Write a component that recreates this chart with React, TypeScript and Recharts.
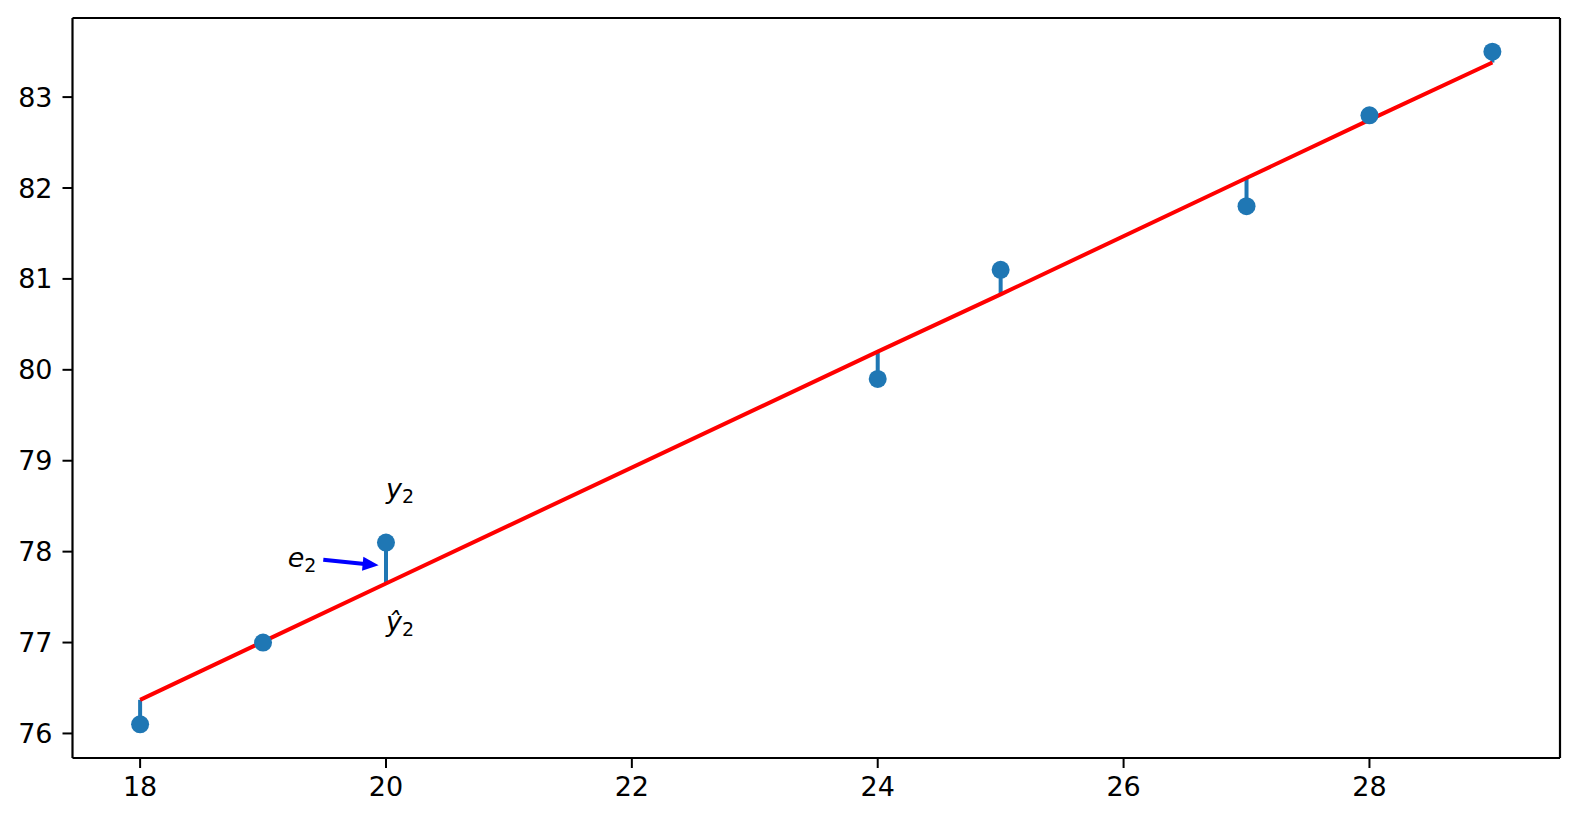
import {
  ComposedChart,
  Line,
  Scatter,
  XAxis,
  YAxis,
  ReferenceLine,
  ReferenceDot,
} from "recharts"

const xs = [18, 19, 20, 24, 25, 27, 28, 29]
const observed = [76.1, 77.0, 78.1, 79.9, 81.1, 81.8, 82.8, 83.5]
const fitted = [76.37, 77.01, 77.65, 80.2, 80.83, 82.11, 82.75, 83.38]
const xTicks = [18, 20, 22, 24, 26, 28]
const yTicks = [76, 77, 78, 79, 80, 81, 82, 83]

const rows = xs.map((x, i) => ({ x, y: observed[i], yhat: fitted[i] }))

const X_DOMAIN = [17.45, 29.55]
const Y_DOMAIN = [75.73, 83.87]

const FONT = "DejaVu Sans"
const BLUE = "#1f77b4"

const mathLabel = (base: string) => (p: any) => (
  <text x={p.cx} y={p.cy} fontFamily={FONT} fontSize={27} fill="#000">
    <tspan fontStyle="italic">{base}</tspan>
    <tspan fontSize={19} dy={5}>2</tspan>
  </text>
)

const arrow = (p: any) => {
  const { x1, y1, x2, y2 } = p
  const dx = x2 - x1
  const dy = y2 - y1
  const len = Math.sqrt(dx * dx + dy * dy)
  const ux = dx / len
  const uy = dy / len
  const hl = 16
  const hw = 7
  const bx = x2 - ux * hl
  const by = y2 - uy * hl
  return (
    <g>
      <line x1={x1} y1={y1} x2={bx + ux * 2} y2={by + uy * 2} stroke="#0000ff" strokeWidth={4} />
      <polygon
        points={`${x2},${y2} ${bx - uy * hw},${by + ux * hw} ${bx + uy * hw},${by - ux * hw}`}
        fill="#0000ff"
      />
    </g>
  )
}

const tickStyle = { fill: "#000", fontSize: 27, fontFamily: FONT }

export default function App() {
  return (
    <div style={{ position: "absolute", left: 0, top: 0, background: "#fff" }}>
      <ComposedChart
        width={1579}
        height={822}
        data={rows}
        margin={{ top: 18, right: 19, bottom: 0, left: 0 }}
      >
        <XAxis
          dataKey="x"
          type="number"
          domain={X_DOMAIN}
          ticks={xTicks}
          allowDataOverflow
          height={64}
          tickSize={10}
          tickMargin={9}
          tick={tickStyle}
          axisLine={{ stroke: "#000", strokeWidth: 2.2 }}
          tickLine={{ stroke: "#000", strokeWidth: 2 }}
        />
        <YAxis
          type="number"
          domain={Y_DOMAIN}
          ticks={yTicks}
          allowDataOverflow
          width={72.5}
          tickSize={10}
          tickMargin={10}
          tick={tickStyle}
          axisLine={{ stroke: "#000", strokeWidth: 2.2 }}
          tickLine={{ stroke: "#000", strokeWidth: 2 }}
        />
        {/* top and right spines */}
        <ReferenceLine y={Y_DOMAIN[1]} stroke="#000" strokeWidth={2.2} />
        <ReferenceLine x={X_DOMAIN[1]} stroke="#000" strokeWidth={2.2} />
        {rows.map((r) => (
          <ReferenceLine
            key={r.x}
            segment={[
              { x: r.x, y: r.y },
              { x: r.x, y: r.yhat },
            ]}
            stroke={BLUE}
            strokeWidth={4}
          />
        ))}
        <Line
          dataKey="yhat"
          stroke="#ff0000"
          strokeWidth={4}
          dot={false}
          activeDot={false}
          isAnimationActive={false}
        />
        <Scatter
          data={rows}
          dataKey="y"
          isAnimationActive={false}
          shape={(p: any) => <circle cx={p.cx} cy={p.cy} r={9} fill={BLUE} />}
        />
        <ReferenceLine
          segment={[
            { x: 19.49, y: 77.91 },
            { x: 19.94, y: 77.85 },
          ]}
          shape={arrow}
        />
        <ReferenceDot x={20} y={78.59} r={1} shape={mathLabel("y")} />
        <ReferenceDot x={20} y={77.13} r={1} shape={mathLabel("ŷ")} />
        <ReferenceDot x={19.2} y={77.83} r={1} shape={mathLabel("e")} />
      </ComposedChart>
    </div>
  )
}
